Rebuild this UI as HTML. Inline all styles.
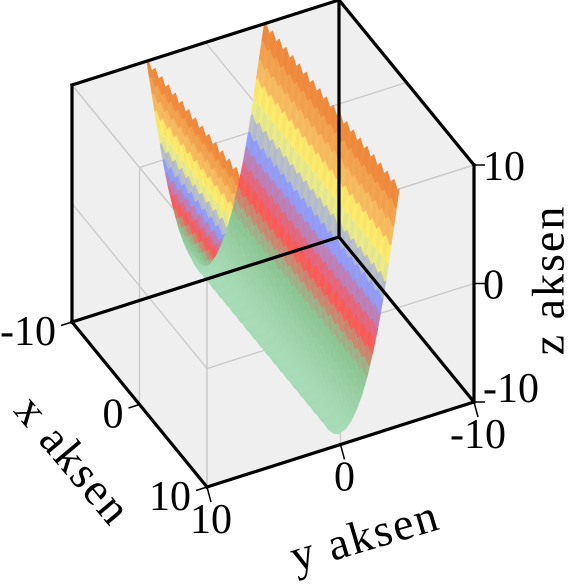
<!DOCTYPE html>
<html><head><meta charset="utf-8"><style>
html,body{margin:0;padding:0;background:#fff;}
svg{display:block;}
text{font-family:"Liberation Serif","DejaVu Serif",serif;fill:#000;}
</style></head>
<body>
<svg id="chart" width="574" height="584" viewBox="0 0 574 584" xmlns="http://www.w3.org/2000/svg">
  <g id="walls"></g>
  <g id="grid"></g>
  <g id="surface"></g>
  <g id="frame"></g>
  <g id="ticks"></g>
  <g id="labels" font-size="46" letter-spacing="2">
    <text x="0" y="0" text-anchor="middle" dominant-baseline="middle" transform="translate(70,463) rotate(50)">x aksen</text>
    <text x="0" y="0" text-anchor="middle" dominant-baseline="middle" transform="translate(366,540) rotate(-16.5)">y aksen</text>
    <text x="0" y="0" text-anchor="middle" dominant-baseline="middle" transform="translate(553,280) rotate(-90)">z aksen</text>
  </g>
</svg>
<script>
// ---- data ----
const xTicks = [-10, 0, 10];
const yTicks = [-10, 0, 10];
const zTicks = [-10, 0, 10];
const tickLabels = ["-10", "0", "10"];
const ys = [-4.4,-4.0,-3.6,-3.2,-2.8,-2.4,-2.0,-1.6,-1.2,-0.8,-0.4,0,0.4,0.8,1.2,1.6,2.0,2.4,2.8,3.2,3.6,4.0,4.4];
const zProfile = [10.0,7.0,4.0,1.2,-1.2,-3.2,-5.0,-6.4,-7.5,-8.3,-8.8,-9.0,-8.8,-8.3,-7.5,-6.4,-5.0,-3.2,-1.2,1.2,4.0,7.0,10.0];
const xs = [-10,-9.75,-9.5,-9.25,-9,-8.75,-8.5,-8.25,-8,-7.75,-7.5,-7.25,-7,-6.75,-6.5,-6.25,-6,-5.75,-5.5,-5.25,-5,-4.75,-4.5,-4.25,-4,-3.75,-3.5,-3.25,-3,-2.75,-2.5,-2.25,-2,-1.75,-1.5,-1.25,-1,-0.75,-0.5,-0.25,0,0.25,0.5,0.75,1,1.25,1.5,1.75,2,2.25,2.5,2.75,3,3.25,3.5,3.75,4,4.25,4.5,4.75,5,5.25,5.5,5.75,6,6.25,6.5,6.75,7,7.25,7.5,7.75,8,8.25,8.5,8.75,9,9.25,9.5,9.75,10];
const ripple = [0,0.28,0,-0.28,0,0.28,0,-0.28,0,0.28,0,-0.28,0,0.28,0,-0.28,0,0.28,0,-0.28,0,0.28,0,-0.28,0,0.28,0,-0.28,0,0.28,0,-0.28,0,0.28,0,-0.28,0,0.28,0,-0.28,0,0.28,0,-0.28,0,0.28,0,-0.28,0,0.28,0,-0.28,0,0.28,0,-0.28,0,0.28,0,-0.28,0,0.28,0,-0.28,0,0.28,0,-0.28,0,0.28,0,-0.28,0,0.28,0,-0.28,0,0.28,0,-0.28,0,0.28,0];

// ---- projection ----
function P(x,y,z){
  return [72 + (x+10)*6.75 - (y-10)*13.35, 322 + (x+10)*8.25 + (y-10)*4.25 - (z+10)*11.85];
}
const NS="http://www.w3.org/2000/svg";
function mk(tag, attrs, parent){
  const e=document.createElementNS(NS,tag);
  for(const k in attrs) e.setAttribute(k, attrs[k]);
  parent.appendChild(e); return e;
}
function pt(p){return p[0].toFixed(2)+","+p[1].toFixed(2);}

const A=P(-10,10,10),B=P(-10,-10,10),C=P(10,-10,10),D=P(10,-10,-10),E=P(10,10,-10),F=P(-10,10,-10),G=P(-10,-10,-10),H=P(10,10,10);

const walls=document.getElementById('walls');
const wall=mk('polygon',{points:[A,B,C,D,E,F].map(pt).join(' '),fill:'#efefef',stroke:'none'},walls);



const grid=document.getElementById('grid');
function gline(p,q,name){
  const l=mk('line',{x1:p[0],y1:p[1],x2:q[0],y2:q[1],stroke:'#c8c8c8','stroke-width':1.3},grid);
  
  
}
xTicks.forEach(v=>{ gline(P(v,10,-10),P(v,10,10),'grid-x-wall'); gline(P(v,10,10),P(v,-10,10),'grid-x-top'); });
yTicks.forEach(v=>{ gline(P(10,v,-10),P(10,v,10),'grid-y-wall'); gline(P(-10,v,10),P(10,v,10),'grid-y-top'); });
zTicks.forEach(v=>{ gline(P(-10,10,v),P(10,10,v),'grid-z-wall-y'); gline(P(10,10,v),P(10,-10,v),'grid-z-wall-x'); });

const cStops=[[-9,[168,220,184]],[-5,[140,196,146]],[-2.5,[255,85,85]],[0.8,[140,160,255]],[2.5,[205,205,170]],[4,[255,255,112]],[6.2,[246,186,96]],[10,[236,126,54]]];
function cmap(z){
  if(z<=cStops[0][0]) return cStops[0][1];
  for(let i=1;i<cStops.length;i++){
    if(z<=cStops[i][0]){
      const t=(z-cStops[i-1][0])/(cStops[i][0]-cStops[i-1][0]);
      return cStops[i-1][1].map((c,k)=>Math.round(c+(cStops[i][1][k]-c)*t));
    }
  }
  return cStops[cStops.length-1][1];
}
const surf=document.getElementById('surface');
function Z(i,j){ return zProfile[j]+ripple[i]; }
const quads=[];
const SUB=2;
for(let i=0;i<xs.length-1;i++){
  for(let j=0;j<ys.length-1;j++){
    for(let s=0;s<SUB;s++){
      const t0=s/SUB,t1=(s+1)/SUB;
      const y0=ys[j]+(ys[j+1]-ys[j])*t0, y1=ys[j]+(ys[j+1]-ys[j])*t1;
      const zA0=Z(i,j)+(Z(i,j+1)-Z(i,j))*t0, zA1=Z(i,j)+(Z(i,j+1)-Z(i,j))*t1;
      const zB0=Z(i+1,j)+(Z(i+1,j+1)-Z(i+1,j))*t0, zB1=Z(i+1,j)+(Z(i+1,j+1)-Z(i+1,j))*t1;
      const c=[[xs[i],y0,zA0],[xs[i+1],y0,zB0],[xs[i+1],y1,zB1],[xs[i],y1,zA1]];
      const cx=(xs[i]+xs[i+1])/2, cy=(y0+y1)/2, cz=(zA0+zA1+zB0+zB1)/4;
      quads.push({c:c,z:cz,d:13.35*cx+6.75*cy+11.7*cz});
    }
  }
}
quads.sort((a,b)=>b.d-a.d);
quads.forEach(q=>{
  const col=cmap(q.z); const cs='rgb('+col.join(',')+')';
  const p=mk('polygon',{points:q.c.map(v=>pt(P(v[0],v[1],v[2]))).join(' '),fill:cs,stroke:cs,'stroke-width':0.6,'stroke-linejoin':'round'},surf);
  
  
});

const frame=document.getElementById('frame');
function bline(p,q,name,col,w){
  const l=mk('line',{x1:p[0],y1:p[1],x2:q[0],y2:q[1],stroke:col,'stroke-width':w,'stroke-linecap':'square'},frame);
  
  
}
[[A,B],[B,C],[C,D],[D,E],[E,F],[F,A],[G,B],[G,F],[G,D]].forEach(e=>bline(e[0],e[1],'box-edge','#000',3.2));

const tk=document.getElementById('ticks');
function tline(p,q,name){
  const l=mk('line',{x1:p[0],y1:p[1],x2:q[0],y2:q[1],stroke:'#000','stroke-width':1.5},tk);
  
  
}
function tlabel(x,y,s,name,anchor){
  const t=mk('text',{x:x,y:y,'font-size':42,'text-anchor':anchor,'dominant-baseline':'central'},tk);
  t.textContent=s;
  
  
}
xTicks.forEach((v,k)=>{
  const p=P(v,10,-10);
  tline(p,[p[0]-11,p[1]+3.5],'x-tick');
  tlabel(p[0]-16,p[1]+10,tickLabels[k],'x-tick-label','end');
});
yTicks.forEach((v,k)=>{
  const p=P(10,v,-10);
  tline(p,[p[0]+4,p[1]+15],'y-tick');
  tlabel(p[0]+4,p[1]+33,tickLabels[k],'y-tick-label','middle');
});
zTicks.forEach((v,k)=>{
  const p=P(10,-10,v);
  tline(p,[p[0]+11,p[1]],'z-tick');
  tlabel(p[0]+9,p[1]+2-(v<0?15:0),tickLabels[k],'z-tick-label','start');
});
</script>
</body></html>
